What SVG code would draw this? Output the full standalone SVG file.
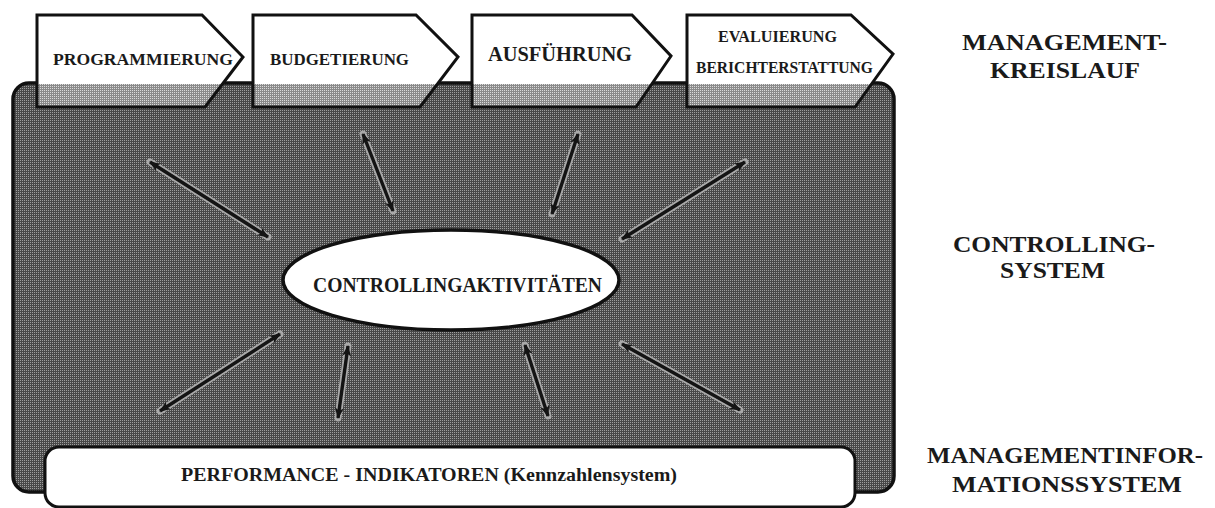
<svg xmlns="http://www.w3.org/2000/svg" width="1215" height="508" viewBox="0 0 1215 508">
  <defs>
    <style>
      .t { font-family: "Liberation Serif", "Times New Roman", serif; font-weight: bold; fill: #1a1a1a; }
      .tab-fill { fill: #ffffff; }
      .tab-line { fill: none; stroke: #111; stroke-width: 3; stroke-linejoin: miter; }
      .halo { stroke: #a9a9a9; stroke-width: 7; stroke-linecap: round; fill: none; }
      .ray { stroke: #141414; stroke-width: 3.4; fill: none; marker-start: url(#head); marker-end: url(#head); }
    </style>
    <!-- halftone screens -->
    <pattern id="screenDark" width="2" height="2" patternUnits="userSpaceOnUse">
      <rect width="2" height="2" fill="#484848"/>
      <rect width="1" height="1" fill="#9e9e9e"/>
    </pattern>
    <pattern id="screenLight" width="2" height="2" patternUnits="userSpaceOnUse">
      <rect width="2" height="2" fill="#8a8a8a"/>
      <rect width="1" height="1" fill="#dadada"/>
    </pattern>
    <clipPath id="belowTop">
      <rect x="0" y="84" width="1215" height="60"/>
    </clipPath>
    <marker id="head" viewBox="0 0 10 8" refX="9" refY="4" markerWidth="12" markerHeight="9" markerUnits="userSpaceOnUse" orient="auto-start-reverse">
      <path d="M0,0 L10,4 L0,8 L2.5,4 z" fill="#141414"/>
    </marker>
  </defs>

  <rect width="1215" height="508" fill="#ffffff"/>

  <!-- controlling system frame -->
  <g id="controlling-system">
    <rect x="13" y="83" width="881" height="409" rx="16" ry="16" fill="url(#screenDark)" stroke="#111" stroke-width="3.5"/>
  </g>

  <!-- management cycle -->
  <g id="tab-programmierung">
    <polygon class="tab-fill" points="37,15 202,15 243,57 205,107 37,107"/>
    <polygon points="37,15 202,15 243,57 205,107 37,107" fill="url(#screenLight)" clip-path="url(#belowTop)"/>
    <polygon class="tab-line" points="37,15 202,15 243,57 205,107 37,107"/>
    <text class="t" x="53" y="65" font-size="17.5" textLength="180" lengthAdjust="spacingAndGlyphs">PROGRAMMIERUNG</text>
  </g>
  <g id="tab-budgetierung">
    <polygon class="tab-fill" points="253,15 416,15 458,57 420,107 253,107"/>
    <polygon points="253,15 416,15 458,57 420,107 253,107" fill="url(#screenLight)" clip-path="url(#belowTop)"/>
    <polygon class="tab-line" points="253,15 416,15 458,57 420,107 253,107"/>
    <text class="t" x="270" y="65" font-size="17.5" textLength="139" lengthAdjust="spacingAndGlyphs">BUDGETIERUNG</text>
  </g>
  <g id="tab-ausfuehrung">
    <polygon class="tab-fill" points="472,15 632,15 671,56 636,107 472,107"/>
    <polygon points="472,15 632,15 671,56 636,107 472,107" fill="url(#screenLight)" clip-path="url(#belowTop)"/>
    <polygon class="tab-line" points="472,15 632,15 671,56 636,107 472,107"/>
    <text class="t" x="488" y="61" font-size="21" textLength="144" lengthAdjust="spacingAndGlyphs">AUSFÜHRUNG</text>
  </g>
  <g id="tab-evaluierung">
    <polygon class="tab-fill" points="687,15 851,15 893,54 855,107 687,107"/>
    <polygon points="687,15 851,15 893,54 855,107 687,107" fill="url(#screenLight)" clip-path="url(#belowTop)"/>
    <polygon class="tab-line" points="687,15 851,15 893,54 855,107 687,107"/>
    <text class="t" x="718" y="42" font-size="16" textLength="119" lengthAdjust="spacingAndGlyphs">EVALUIERUNG</text>
    <text class="t" x="696" y="73" font-size="16" textLength="177" lengthAdjust="spacingAndGlyphs">BERICHTERSTATTUNG</text>
  </g>

  <!-- rays between the activities and the surrounding layers -->
  <g id="connectors">
    <line class="halo" x1="150" y1="162" x2="268" y2="237"/>
    <line class="ray" x1="150" y1="162" x2="268" y2="237"/>
    <line class="halo" x1="363" y1="134" x2="393" y2="211"/>
    <line class="ray" x1="363" y1="134" x2="393" y2="211"/>
    <line class="halo" x1="578" y1="134" x2="552" y2="214"/>
    <line class="ray" x1="578" y1="134" x2="552" y2="214"/>
    <line class="halo" x1="745" y1="162" x2="622" y2="239"/>
    <line class="ray" x1="745" y1="162" x2="622" y2="239"/>
    <line class="halo" x1="280" y1="334" x2="160" y2="411"/>
    <line class="ray" x1="280" y1="334" x2="160" y2="411"/>
    <line class="halo" x1="348" y1="346" x2="338" y2="418"/>
    <line class="ray" x1="348" y1="346" x2="338" y2="418"/>
    <line class="halo" x1="525" y1="345" x2="548" y2="416"/>
    <line class="ray" x1="525" y1="345" x2="548" y2="416"/>
    <line class="halo" x1="622" y1="344" x2="740" y2="410"/>
    <line class="ray" x1="622" y1="344" x2="740" y2="410"/>
  </g>

  <g id="controllingaktivitaeten">
    <ellipse cx="451" cy="280" rx="168" ry="50" fill="#ffffff" stroke="#111" stroke-width="3.5"/>
    <text class="t" x="313" y="292" font-size="21" textLength="289" lengthAdjust="spacingAndGlyphs">CONTROLLINGAKTIVITÄTEN</text>
  </g>

  <g id="performance-indikatoren">
    <rect x="45" y="447" width="810" height="60" rx="14" ry="14" fill="#ffffff" stroke="#111" stroke-width="3"/>
    <text class="t" x="181" y="481" font-size="18" textLength="496" lengthAdjust="spacingAndGlyphs">PERFORMANCE - INDIKATOREN (Kennzahlensystem)</text>
  </g>

  <!-- layer captions -->
  <g id="caption-management">
    <text class="t" x="962" y="50" font-size="23" textLength="205" lengthAdjust="spacingAndGlyphs">MANAGEMENT-</text>
    <text class="t" x="990" y="78" font-size="23" textLength="150" lengthAdjust="spacingAndGlyphs">KREISLAUF</text>
  </g>
  <g id="caption-controlling">
    <text class="t" x="953" y="252" font-size="23" textLength="202" lengthAdjust="spacingAndGlyphs">CONTROLLING-</text>
    <text class="t" x="1000" y="278" font-size="23" textLength="105" lengthAdjust="spacingAndGlyphs">SYSTEM</text>
  </g>
  <g id="caption-mis">
    <text class="t" x="927" y="463" font-size="23" textLength="276" lengthAdjust="spacingAndGlyphs">MANAGEMENTINFOR-</text>
    <text class="t" x="952" y="492" font-size="23" textLength="230" lengthAdjust="spacingAndGlyphs">MATIONSSYSTEM</text>
  </g>
</svg>
